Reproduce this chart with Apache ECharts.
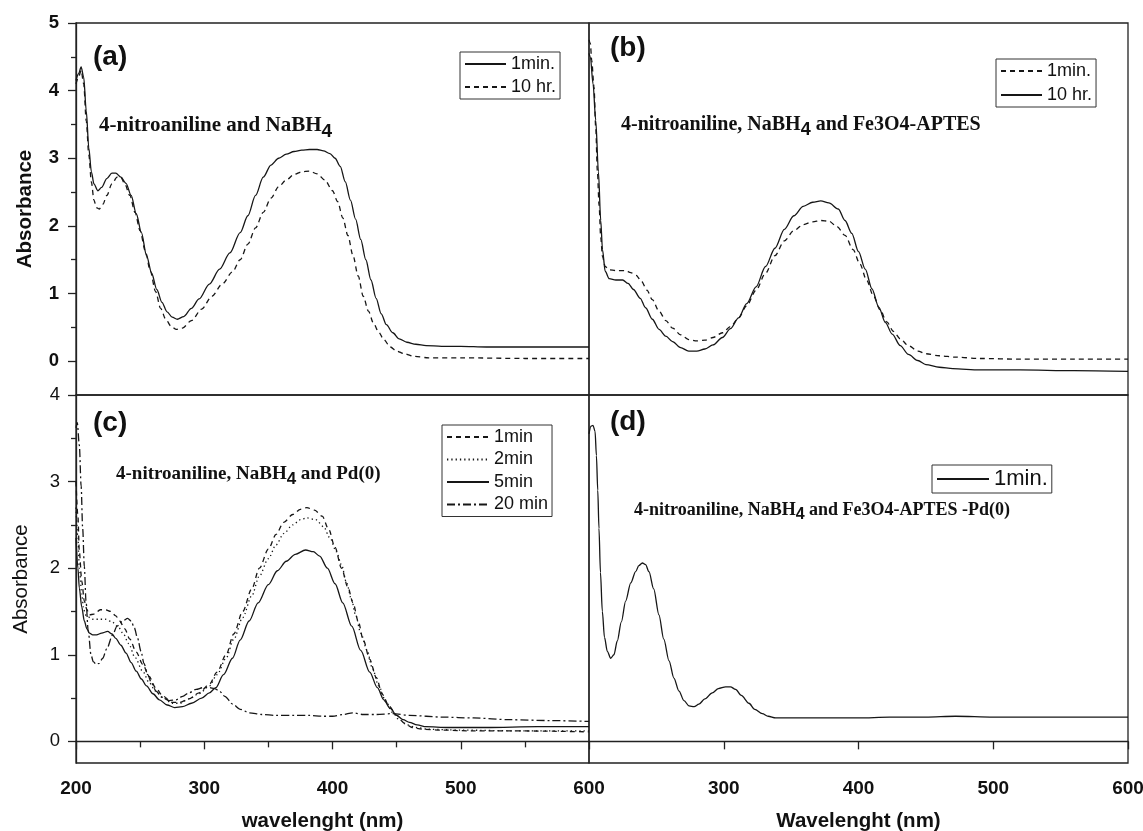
<!DOCTYPE html>
<html><head><meta charset="utf-8">
<script src="https://cdn.jsdelivr.net/npm/echarts@6/dist/echarts.min.js"></script>
<style>html,body{margin:0;padding:0;background:#fff}#chart{width:1143px;height:831px}</style>
</head><body><div id="chart"></div>
<script>
// ---------- Panel (a): 4-nitroaniline and NaBH4 ----------
const waveA1 = [200,202,204,206,208,210,212,214,217,220,224,228,231,235,239,243,247,251,255,259,263,267,271,275,279,284,290,296,304,312,320,328,334,340,346,352,358,364,370,376,382,388,393,398,402,406,410,414,418,422,426,430,434,438,442,447,452,458,465,473,485,500,520,560,600];
const absA1  = [4.15,4.25,4.35,4.2,3.7,3.15,2.8,2.62,2.52,2.57,2.7,2.78,2.78,2.72,2.63,2.45,2.18,1.9,1.56,1.3,1.06,0.87,0.73,0.65,0.62,0.66,0.78,0.92,1.14,1.36,1.6,1.9,2.15,2.45,2.72,2.9,3.0,3.06,3.1,3.12,3.13,3.13,3.11,3.07,3.0,2.88,2.65,2.38,2.1,1.8,1.5,1.2,0.93,0.7,0.54,0.42,0.33,0.28,0.25,0.23,0.22,0.22,0.21,0.21,0.21];
const waveA2 = [200,202,204,206,208,210,212,214,216,218,221,224,228,232,235,238,242,246,250,254,258,262,266,270,274,278,283,290,298,306,314,322,328,334,340,346,352,358,364,370,376,382,388,394,400,404,408,412,416,420,424,428,432,436,440,445,450,456,464,475,500,550,600];
const absA2  = [4.1,4.2,4.3,4.1,3.55,3.05,2.65,2.38,2.27,2.25,2.32,2.45,2.62,2.72,2.72,2.62,2.45,2.2,1.93,1.63,1.33,1.03,0.78,0.62,0.52,0.47,0.49,0.6,0.77,0.96,1.14,1.32,1.5,1.73,1.97,2.2,2.41,2.58,2.68,2.76,2.8,2.81,2.77,2.68,2.52,2.36,2.12,1.86,1.56,1.26,0.96,0.74,0.56,0.43,0.32,0.21,0.15,0.11,0.07,0.05,0.05,0.04,0.04];

// ---------- Panel (b): + Fe3O4-APTES ----------
const waveB1 = [200,201,202,203.7,205,206.2,207.5,208.7,210,212,215,220,227,231,235,239,243,247,252,257,262,268,274,280,286,292,299,305,311,317,324,331,338,345,352,359,366,372,378,384,390,396,401,406,411,416,421,426,431,437,444,450,460,472,490,520,560,600];
const absB1  = [4.75,4.7,4.45,4.06,3.45,2.82,2.3,1.83,1.55,1.4,1.35,1.34,1.34,1.31,1.27,1.18,1.05,0.91,0.74,0.6,0.49,0.39,0.32,0.3,0.31,0.35,0.42,0.51,0.64,0.82,1.05,1.3,1.56,1.78,1.93,2.02,2.06,2.08,2.07,1.99,1.86,1.65,1.44,1.2,0.97,0.76,0.58,0.44,0.33,0.23,0.15,0.11,0.08,0.06,0.04,0.03,0.03,0.03];
const waveB2 = [200,201,203,205,207,208.7,210,212,215,220,225,229,233,238,242,247,252,257,262,268,274,280,286,292,299,305,311,317,324,331,338,345,352,359,366,372,378,385,390,395,400,405,410,415,420,425,431,437,444,450,460,470,490,520,560,600];
const absB2  = [4.55,4.5,4.1,3.56,2.8,2.08,1.65,1.33,1.22,1.2,1.2,1.15,1.06,0.93,0.79,0.62,0.47,0.37,0.29,0.2,0.15,0.15,0.18,0.24,0.35,0.48,0.64,0.85,1.1,1.4,1.67,1.95,2.15,2.29,2.35,2.37,2.34,2.25,2.08,1.89,1.62,1.36,1.07,0.8,0.57,0.4,0.23,0.1,0.01,-0.05,-0.09,-0.11,-0.13,-0.13,-0.14,-0.15];

// ---------- Panel (c): + Pd(0) ----------
const waveC1 = [200,201.5,202.6,204.5,206.5,208.5,210.5,214,219,223,227,231,234,238,242,247,252,257,262,268,275,281,288,296,304,310,317,323,330,337,343,350,356,362,369,375,380,386,392,397,402,407,412,416,420,424,429,434,439,444,450,456,462,470,485,510,550,600];
const absC1  = [3.0,2.6,2.19,1.85,1.62,1.52,1.46,1.47,1.52,1.52,1.5,1.45,1.39,1.3,1.18,1.03,0.89,0.75,0.62,0.52,0.45,0.45,0.49,0.56,0.66,0.8,1.0,1.24,1.5,1.76,2.0,2.22,2.39,2.53,2.62,2.68,2.7,2.67,2.6,2.45,2.24,2.0,1.78,1.6,1.39,1.17,0.95,0.74,0.54,0.41,0.3,0.21,0.16,0.14,0.13,0.12,0.12,0.11];
const waveC2 = [200,201.5,202.6,204.5,206,208,213,218,223,228,233,237,241,246,252,257,262,268,275,281,288,296,304,310,317,323,330,337,343,350,356,362,369,375,380,387,393,398,403,407,411,415,418,422,427,431,436,442,447,452,458,465,475,500,550,600];
const absC2  = [2.7,2.35,2.0,1.7,1.52,1.45,1.41,1.41,1.41,1.38,1.32,1.24,1.13,0.97,0.81,0.68,0.58,0.5,0.44,0.44,0.49,0.55,0.64,0.77,0.96,1.18,1.43,1.68,1.91,2.11,2.27,2.4,2.5,2.56,2.58,2.56,2.48,2.35,2.19,2.04,1.83,1.63,1.46,1.25,1.05,0.85,0.64,0.45,0.33,0.25,0.19,0.16,0.14,0.13,0.12,0.12];
const waveC3 = [200,201.5,202.6,204.5,206.5,208.5,210.5,213,216,220,224.7,228,231,235,239,243,247,251,255,260,265,271,277,283,290,298,304,309,315,322,328,335,342,350,357,364,371,379,385,390,396,402,408,415,422,429,435,440,445,450,455,460,466,473,490,520,560,600];
const absC3  = [2.35,2.0,1.77,1.55,1.39,1.3,1.25,1.23,1.23,1.25,1.27,1.24,1.19,1.11,1.02,0.91,0.81,0.72,0.64,0.55,0.48,0.42,0.39,0.4,0.44,0.5,0.56,0.62,0.77,0.96,1.17,1.39,1.6,1.81,1.97,2.08,2.16,2.21,2.19,2.14,2.0,1.82,1.6,1.33,1.05,0.8,0.62,0.48,0.38,0.3,0.25,0.22,0.19,0.17,0.16,0.16,0.17,0.17];
const waveC4 = [200,201,202.6,204,205.2,206.5,207.8,209.5,211.7,213.5,215.6,218,220.8,224,228.6,232,236.4,240.3,243,245.5,248,250.7,253,255.9,259,262.4,267,272.8,278,283.2,288,293.6,299,304,308,311.8,316,322.2,328,335.2,345,356,370,381.9,392,400.1,408,415.7,424,433.9,446.9,460,486,510,538,570,600];
const absC4  = [3.62,3.68,3.42,2.95,2.46,2.02,1.62,1.28,1.0,0.92,0.89,0.9,0.96,1.07,1.23,1.33,1.39,1.42,1.39,1.31,1.19,1.04,0.9,0.77,0.67,0.58,0.51,0.47,0.48,0.52,0.56,0.6,0.62,0.62,0.61,0.58,0.52,0.43,0.37,0.33,0.31,0.3,0.3,0.3,0.29,0.29,0.31,0.33,0.31,0.31,0.32,0.3,0.28,0.27,0.25,0.24,0.23];

// ---------- Panel (d): + Fe3O4-APTES-Pd(0) ----------
const waveD1 = [200,201.5,203,204.5,205.5,206.5,207.4,208.5,209.9,211.5,213.6,216.1,218.5,221,224,227.2,231,234.6,237,239.6,242,244.5,248,251.9,255.5,259.4,263,266.8,270.5,274.2,278,281.6,286,291.5,296,301.4,305,308.8,313,318.7,323,328.6,333,338.5,350,373,400,423,450,472,500,522,550,586,600];
const absD1  = [3.55,3.64,3.65,3.58,3.3,2.9,2.46,1.95,1.5,1.2,1.04,0.96,1.0,1.16,1.38,1.62,1.83,1.96,2.03,2.06,2.04,1.96,1.76,1.46,1.18,0.93,0.73,0.58,0.47,0.41,0.4,0.43,0.49,0.56,0.61,0.63,0.63,0.6,0.53,0.44,0.37,0.32,0.29,0.27,0.27,0.27,0.27,0.28,0.28,0.29,0.28,0.28,0.28,0.28,0.28];

// ---------- labels / ticks ----------
const xTicks = [200, 300, 400, 500, 600];
const xTicksRight = [300, 400, 500, 600];
const yLabelsTop = [0, 1, 2, 3, 4, 5];
const yMinorTop = [0.5, 1.5, 2.5, 3.5, 4.5];
const yLabelsBottom = [0, 1, 2, 3, 4];
const yMinorBottom = [0.5, 1.5, 2.5, 3.5];
const legendLabels = {a1:'1min.', a2:'10 hr.', b1:'1min.', b2:'10 hr.', c1:'1min', c2:'2min', c3:'5min', c4:'20 min', d1:'1min.'};

const SANS = '"Liberation Sans", Arial, Helvetica, sans-serif';
const SERIF = '"Liberation Serif", "Times New Roman", serif';
const INK = '#161616';

function zip(xs, ys){ return xs.map((x,i)=>[x, ys[i]]); }

const DASH = [5, 4], DOT = [1.3, 3], DASHDOT = [8, 3, 2, 3];

function line(name, xs, ys, gi, yi, type){
  return {
    name, type:'line', xAxisIndex:gi, yAxisIndex:yi, data:zip(xs, ys),
    symbol:'none', smooth:0.3, smoothMonotone:'x', animation:false,
    lineStyle:{color:INK, width:1.3, type:type}, itemStyle:{color:INK}
  };
}

const gridBase = {show:true, borderColor:'#222', borderWidth:1.3, backgroundColor:'transparent', outerBoundsMode:'none', containLabel:false};

const axisLineStyle = {color:'#222', width:1.3};

function hiddenX(gi){
  return {gridIndex:gi, type:'value', min:200, max:600, show:true,
    axisLine:{show:false}, axisTick:{show:false}, axisLabel:{show:false}, splitLine:{show:false}};
}

function hiddenY(gi, min, max){
  return {gridIndex:gi, type:'value', min, max, position:'left',
    axisLine:{show:false}, axisTick:{show:false}, axisLabel:{show:false}, splitLine:{show:false}};
}

function legendBox(names, left, top, fontSize, itemWidth, gap){
  return {
    data:names, left, top, orient:'vertical', itemWidth, itemHeight:12, itemGap:gap,
    padding:[3,4,3,4], borderColor:'#333', borderWidth:1, backgroundColor:'#fff',
    formatter:(n)=>legendLabels[n], selectedMode:false,
    itemStyle:{color:'rgba(0,0,0,0)', borderColor:'rgba(0,0,0,0)', borderWidth:0, opacity:0},
    textStyle:{fontFamily:SANS, fontSize, color:'#111', lineHeight:fontSize}
  };
}

function note(left, top, size, pre, post){
  return {
    type:'text', left, top, z:50,
    style:{
      text: pre + 'NaBH{sub|4}' + post,
      fontFamily:SERIF, fontWeight:'bold', fontSize:size, fill:'#111',
      rich:{ sub:{fontFamily:SANS, fontWeight:'bold', fontSize:size-2, fill:'#111', padding:[Math.round(size*0.55),0,0,0]} }
    }
  };
}

function panelLabel(left, top, t){
  return {type:'text', left, top, z:50, style:{text:t, fontFamily:SANS, fontWeight:'bold', fontSize:28, fill:'#111'}};
}

const option = {
  animation:false,
  backgroundColor:'#fff',
  grid:[
    Object.assign({left:76, top:23, width:513, height:372}, gridBase),
    Object.assign({left:589, top:23, width:539, height:372}, gridBase),
    Object.assign({left:76, top:395, width:513, height:368}, gridBase),
    Object.assign({left:589, top:395, width:539, height:368}, gridBase)
  ],
  xAxis:[
    hiddenX(0),
    hiddenX(1),
    {gridIndex:2, type:'value', min:200, max:600, interval:100, position:'bottom',
      axisLine:{show:true, lineStyle:axisLineStyle},
      axisTick:{show:true, inside:false, length:8, lineStyle:axisLineStyle, customValues:xTicks},
      minorTick:{show:true, splitNumber:2, length:6, lineStyle:axisLineStyle},
      splitLine:{show:false}, minorSplitLine:{show:false},
      axisLabel:{fontFamily:SANS, fontWeight:'bold', fontSize:19, color:'#111', margin:16, customValues:xTicks},
      name:'wavelenght (nm)', nameLocation:'middle', nameGap:48,
      nameTextStyle:{fontFamily:SANS, fontWeight:'bold', fontSize:20.5, color:'#111', padding:[0,20,0,0]}},
    {gridIndex:3, type:'value', min:200, max:600, interval:100, position:'bottom',
      axisLine:{show:true, lineStyle:axisLineStyle},
      axisTick:{show:true, inside:false, length:8, lineStyle:axisLineStyle, customValues:xTicksRight},
      splitLine:{show:false},
      axisLabel:{fontFamily:SANS, fontWeight:'bold', fontSize:19, color:'#111', margin:16, customValues:xTicksRight},
      name:'Wavelenght (nm)', nameLocation:'middle', nameGap:48,
      nameTextStyle:{fontFamily:SANS, fontWeight:'bold', fontSize:20.5, color:'#111'}}
  ],
  yAxis:[
    {gridIndex:0, type:'value', min:-0.5, max:5, position:'left',
      axisLine:{show:true, lineStyle:axisLineStyle},
      axisTick:{show:true, inside:false, length:8, lineStyle:axisLineStyle, customValues:yLabelsTop},
      axisLabel:{fontFamily:SANS, fontWeight:'bold', fontSize:18.5, color:'#111', margin:17, customValues:yLabelsTop},
      splitLine:{show:false},
      name:'Absorbance', nameLocation:'middle', nameGap:40,
      nameTextStyle:{fontFamily:SANS, fontWeight:'bold', fontSize:20.5, color:'#111'}},
    {gridIndex:0, type:'value', min:-0.5, max:5, position:'left', offset:0,
      axisLine:{show:false},
      axisTick:{show:true, inside:false, length:5, lineStyle:axisLineStyle, customValues:yMinorTop},
      axisLabel:{show:false}, splitLine:{show:false}},
    hiddenY(1, -0.5, 5),
    {gridIndex:2, type:'value', min:-0.25, max:4, position:'left',
      axisLine:{show:true, lineStyle:axisLineStyle},
      axisTick:{show:true, inside:false, length:8, lineStyle:axisLineStyle, customValues:yLabelsBottom},
      axisLabel:{fontFamily:SANS, fontWeight:'normal', fontSize:18.5, color:'#111', margin:16, customValues:yLabelsBottom},
      splitLine:{show:false},
      name:'Absorbance', nameLocation:'middle', nameGap:44,
      nameTextStyle:{fontFamily:SANS, fontWeight:'normal', fontSize:20.5, color:'#111'}},
    {gridIndex:2, type:'value', min:-0.25, max:4, position:'left', offset:0,
      axisLine:{show:false},
      axisTick:{show:true, inside:false, length:5, lineStyle:axisLineStyle, customValues:yMinorBottom},
      axisLabel:{show:false}, splitLine:{show:false}},
    hiddenY(3, -0.25, 4)
  ],
  legend:[
    legendBox(['a1','a2'], 460, 52, 18, 41, 5),
    legendBox(['b1','b2'], 996, 59, 18, 41, 6),
    legendBox(['c1','c2','c3','c4'], 442, 425, 18, 42, 4.5),
    legendBox(['d1'], 932, 465, 22, 52, 4)
  ],
  series:[
    line('a1', waveA1, absA1, 0, 0, 'solid'),
    line('a2', waveA2, absA2, 0, 0, DASH),
    line('b1', waveB1, absB1, 1, 2, DASH),
    line('b2', waveB2, absB2, 1, 2, 'solid'),
    line('c1', waveC1, absC1, 2, 3, DASH),
    line('c2', waveC2, absC2, 2, 3, DOT),
    line('c3', waveC3, absC3, 2, 3, 'solid'),
    line('c4', waveC4, absC4, 2, 3, DASHDOT),
    line('d1', waveD1, absD1, 3, 5, 'solid')
  ],
  graphic:[
    panelLabel(93, 43, '(a)'),
    panelLabel(610, 34, '(b)'),
    panelLabel(93, 409, '(c)'),
    panelLabel(610, 408, '(d)'),
    note(99, 115, 21, '4-nitroaniline and ', ''),
    note(621, 115, 20, '4-nitroaniline, ', ' and Fe3O4-APTES'),
    note(116, 465, 19, '4-nitroaniline, ', ' and Pd(0)'),
    note(634, 501, 18, '4-nitroaniline, ', ' and Fe3O4-APTES -Pd(0)')
  ]
};

const chart = echarts.init(document.getElementById('chart'), null, {renderer:'canvas'});
chart.setOption(option);
</script>
</body></html>
